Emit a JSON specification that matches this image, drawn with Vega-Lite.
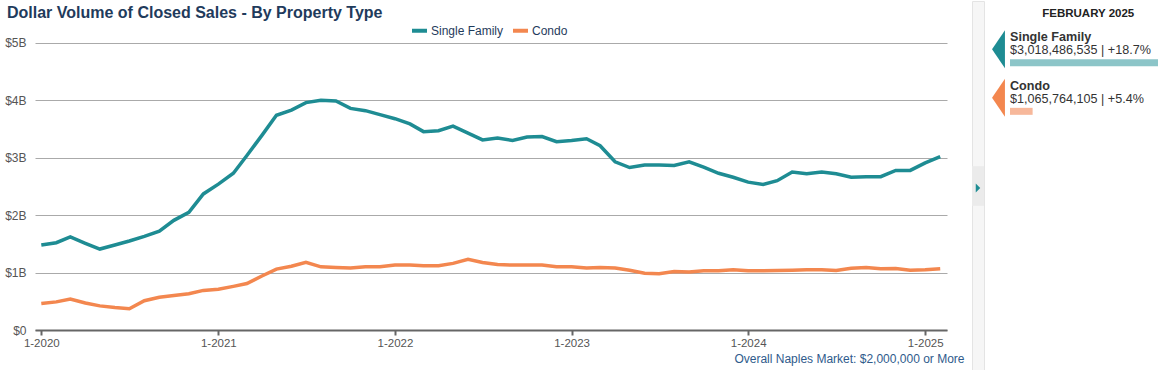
{
  "$schema": "https://vega.github.io/schema/vega-lite/v6.json",
  "padding": {"left": 4, "top": 0, "right": 0, "bottom": 0},
  "background": "white",
  "spacing": 7,
  "config": {"font": "Liberation Sans", "view": {"stroke": null}},
  "resolve": {"scale": {"color": "independent"}},
  "hconcat": [
    {
      "width": 912,
      "height": 329,
      "layer": [
        {
          "data": {"values": [
            {"date": "2020/01/01", "Single Family": 1.48, "Condo": 0.46},
            {"date": "2020/02/01", "Single Family": 1.52, "Condo": 0.49},
            {"date": "2020/03/01", "Single Family": 1.62, "Condo": 0.54},
            {"date": "2020/04/01", "Single Family": 1.51, "Condo": 0.47},
            {"date": "2020/05/01", "Single Family": 1.41, "Condo": 0.42},
            {"date": "2020/06/01", "Single Family": 1.48, "Condo": 0.39},
            {"date": "2020/07/01", "Single Family": 1.55, "Condo": 0.37},
            {"date": "2020/08/01", "Single Family": 1.63, "Condo": 0.51},
            {"date": "2020/09/01", "Single Family": 1.72, "Condo": 0.57},
            {"date": "2020/10/01", "Single Family": 1.91, "Condo": 0.60},
            {"date": "2020/11/01", "Single Family": 2.05, "Condo": 0.63},
            {"date": "2020/12/01", "Single Family": 2.37, "Condo": 0.69},
            {"date": "2021/01/01", "Single Family": 2.54, "Condo": 0.71},
            {"date": "2021/02/01", "Single Family": 2.73, "Condo": 0.76},
            {"date": "2021/03/01", "Single Family": 3.04, "Condo": 0.81},
            {"date": "2021/04/01", "Single Family": 3.39, "Condo": 0.94},
            {"date": "2021/05/01", "Single Family": 3.74, "Condo": 1.06},
            {"date": "2021/06/01", "Single Family": 3.83, "Condo": 1.11},
            {"date": "2021/07/01", "Single Family": 3.96, "Condo": 1.18},
            {"date": "2021/08/01", "Single Family": 4.00, "Condo": 1.10},
            {"date": "2021/09/01", "Single Family": 3.99, "Condo": 1.09},
            {"date": "2021/10/01", "Single Family": 3.86, "Condo": 1.08},
            {"date": "2021/11/01", "Single Family": 3.82, "Condo": 1.10},
            {"date": "2021/12/01", "Single Family": 3.75, "Condo": 1.10},
            {"date": "2022/01/01", "Single Family": 3.68, "Condo": 1.13},
            {"date": "2022/02/01", "Single Family": 3.59, "Condo": 1.13},
            {"date": "2022/03/01", "Single Family": 3.455, "Condo": 1.12},
            {"date": "2022/04/01", "Single Family": 3.47, "Condo": 1.12},
            {"date": "2022/05/01", "Single Family": 3.55, "Condo": 1.16},
            {"date": "2022/06/01", "Single Family": 3.43, "Condo": 1.23},
            {"date": "2022/07/01", "Single Family": 3.31, "Condo": 1.175},
            {"date": "2022/08/01", "Single Family": 3.345, "Condo": 1.14},
            {"date": "2022/09/01", "Single Family": 3.30, "Condo": 1.13},
            {"date": "2022/10/01", "Single Family": 3.36, "Condo": 1.13},
            {"date": "2022/11/01", "Single Family": 3.37, "Condo": 1.13},
            {"date": "2022/12/01", "Single Family": 3.28, "Condo": 1.10},
            {"date": "2023/01/01", "Single Family": 3.30, "Condo": 1.10},
            {"date": "2023/02/01", "Single Family": 3.33, "Condo": 1.08},
            {"date": "2023/03/01", "Single Family": 3.21, "Condo": 1.09},
            {"date": "2023/04/01", "Single Family": 2.93, "Condo": 1.08},
            {"date": "2023/05/01", "Single Family": 2.83, "Condo": 1.04},
            {"date": "2023/06/01", "Single Family": 2.875, "Condo": 0.99},
            {"date": "2023/07/01", "Single Family": 2.875, "Condo": 0.98},
            {"date": "2023/08/01", "Single Family": 2.865, "Condo": 1.02},
            {"date": "2023/09/01", "Single Family": 2.93, "Condo": 1.01},
            {"date": "2023/10/01", "Single Family": 2.835, "Condo": 1.03},
            {"date": "2023/11/01", "Single Family": 2.73, "Condo": 1.03},
            {"date": "2023/12/01", "Single Family": 2.66, "Condo": 1.05},
            {"date": "2024/01/01", "Single Family": 2.575, "Condo": 1.03},
            {"date": "2024/02/01", "Single Family": 2.535, "Condo": 1.03},
            {"date": "2024/03/01", "Single Family": 2.60, "Condo": 1.035},
            {"date": "2024/04/01", "Single Family": 2.75, "Condo": 1.04},
            {"date": "2024/05/01", "Single Family": 2.72, "Condo": 1.05},
            {"date": "2024/06/01", "Single Family": 2.75, "Condo": 1.05},
            {"date": "2024/07/01", "Single Family": 2.72, "Condo": 1.035},
            {"date": "2024/08/01", "Single Family": 2.66, "Condo": 1.075},
            {"date": "2024/09/01", "Single Family": 2.67, "Condo": 1.09},
            {"date": "2024/10/01", "Single Family": 2.67, "Condo": 1.065},
            {"date": "2024/11/01", "Single Family": 2.78, "Condo": 1.07},
            {"date": "2024/12/01", "Single Family": 2.78, "Condo": 1.04},
            {"date": "2025/01/01", "Single Family": 2.91, "Condo": 1.05},
            {"date": "2025/02/01", "Single Family": 3.018, "Condo": 1.066}
          ]},
          "transform": [{"fold": ["Single Family", "Condo"], "as": ["type", "value"]}],
          "mark": {"type": "line", "strokeWidth": 3.5},
          "encoding": {
            "x": {
              "field": "date", "type": "temporal",
              "scale": {"domain": [{"year": 2019, "month": 12, "date": 19}, {"year": 2025, "month": 2, "date": 15}]},
              "axis": {
                "title": "Overall Naples Market: $2,000,000 or More",
                "titleFontSize": 12, "titleFontWeight": "normal", "titleColor": "#2f5b8c",
                "titleAlign": "right", "titleX": 929, "titlePadding": 4,
                "format": "%-m-%Y",
                "values": [{"year": 2020, "month": 1, "date": 1}, {"year": 2021, "month": 1, "date": 1}, {"year": 2022, "month": 1, "date": 1}, {"year": 2023, "month": 1, "date": 1}, {"year": 2024, "month": 1, "date": 1}, {"year": 2025, "month": 1, "date": 1}],
                "grid": false, "domainColor": "#666666", "domainWidth": 2,
                "tickColor": "#666666", "tickWidth": 2, "tickSize": 5,
                "labelColor": "#555555", "labelFontSize": 11.5, "labelPadding": 2.5,
                "labelFlush": false, "labelOverlap": false
              }
            },
            "y": {
              "field": "value", "type": "quantitative",
              "scale": {"domain": [0, 5.73], "nice": false},
              "axis": {
                "values": [0, 1, 2, 3, 4, 5], "title": null, "domain": false, "ticks": false,
                "labelPadding": 9, "gridColor": "#aaaaaa", "gridWidth": 1,
                "labelColor": "#555555", "labelFontSize": 12,
                "labelExpr": "datum.value == 0 ? '$0' : '$' + datum.value + 'B'"
              }
            },
            "color": {
              "field": "type", "type": "nominal",
              "scale": {"domain": ["Single Family", "Condo"], "range": ["#1e8c93", "#f3874f"]},
              "legend": {
                "orient": "none", "legendX": 375, "legendY": 20, "direction": "horizontal",
                "title": null, "symbolType": "stroke", "symbolStrokeWidth": 4, "symbolSize": 225,
                "labelFontSize": 12, "labelColor": "#1f3b5c", "columnPadding": 1,
                "symbolOffset": 0, "padding": 0, "labelOffset": 2
              }
            }
          }
        },
        {
          "data": {"values": [{"t": "Dollar Volume of Closed Sales - By Property Type"}]},
          "mark": {"type": "text", "align": "left", "baseline": "alphabetic", "fontSize": 16, "fontWeight": "bold", "color": "#1f3b5c", "dx": -28, "dy": 16.5},
          "encoding": {
            "x": {"datum": {"year": 2019, "month": 12, "date": 19}},
            "y": {"datum": 5.73},
            "text": {"field": "t"}
          }
        }
      ]
    },
    {
      "width": 12,
      "height": 370,
      "view": {"fill": "#f6f6f6", "stroke": "#e4e4e4"},
      "data": {"values": [{}]},
      "layer": [
        {"mark": {"type": "point", "shape": "M-1,-3.3L1,-3.3L1,3.3L-1,3.3Z", "size": 144, "filled": true, "color": "#ebebeb", "opacity": 1, "strokeWidth": 0}, "encoding": {}},
        {"mark": {"type": "point", "shape": "M-0.5,-1L0.5,0L-0.5,1Z", "size": 81, "filled": true, "color": "#1e8c93", "opacity": 1, "strokeWidth": 0, "yOffset": 2}, "encoding": {}}
      ]
    },
    {
      "width": 148,
      "height": 145,
      "data": {"values": [
        {"type": "Single Family", "label": "$3,018,486,535 | +18.7%", "change": 18.7},
        {"type": "Condo", "label": "$1,065,764,105 | +5.4%", "change": 5.4}
      ]},
      "encoding": {
        "y": {"field": "type", "type": "nominal", "scale": {"domain": ["Single Family", "Condo"], "paddingOuter": 0.49, "paddingInner": 0}, "axis": null}
      },
      "layer": [
        {
          "mark": {"type": "bar", "height": 7, "yOffset": 13.5},
          "encoding": {
            "x": {"field": "change", "type": "quantitative", "scale": {"domain": [3, 18.7], "zero": false, "nice": false}, "axis": null},
            "x2": {"datum": 3},
            "color": {"field": "type", "type": "nominal", "scale": {"domain": ["Single Family", "Condo"], "range": ["#8cc5c8", "#f7b89b"]}, "legend": null}
          }
        },
        {
          "mark": {"type": "point", "shape": "M0.34,-1L0.34,1L-0.34,0Z", "size": 1444, "filled": true, "opacity": 1, "strokeWidth": 0, "xOffset": -11.5},
          "encoding": {
            "x": {"datum": 3},
            "color": {"field": "type", "type": "nominal", "scale": {"domain": ["Single Family", "Condo"], "range": ["#1e8c93", "#f3874f"]}, "legend": null}
          }
        },
        {
          "mark": {"type": "text", "align": "left", "baseline": "middle", "fontWeight": "bold", "fontSize": 12.6, "dy": -12, "color": "#333333"},
          "encoding": {"x": {"datum": 3}, "text": {"field": "type"}}
        },
        {
          "mark": {"type": "text", "align": "left", "baseline": "middle", "fontSize": 12.6, "dy": 1, "color": "#333333"},
          "encoding": {"x": {"datum": 3}, "text": {"field": "label"}}
        },
        {
          "data": {"values": [{"h": "FEBRUARY 2025"}]},
          "mark": {"type": "text", "align": "center", "baseline": "middle", "fontWeight": "bold", "fontSize": 11.5, "dy": -35, "color": "#222222"},
          "encoding": {"x": {"datum": 11.3}, "y": {"datum": "Single Family"}, "text": {"field": "h"}}
        }
      ],
      "resolve": {"scale": {"color": "independent"}}
    }
  ]
}
